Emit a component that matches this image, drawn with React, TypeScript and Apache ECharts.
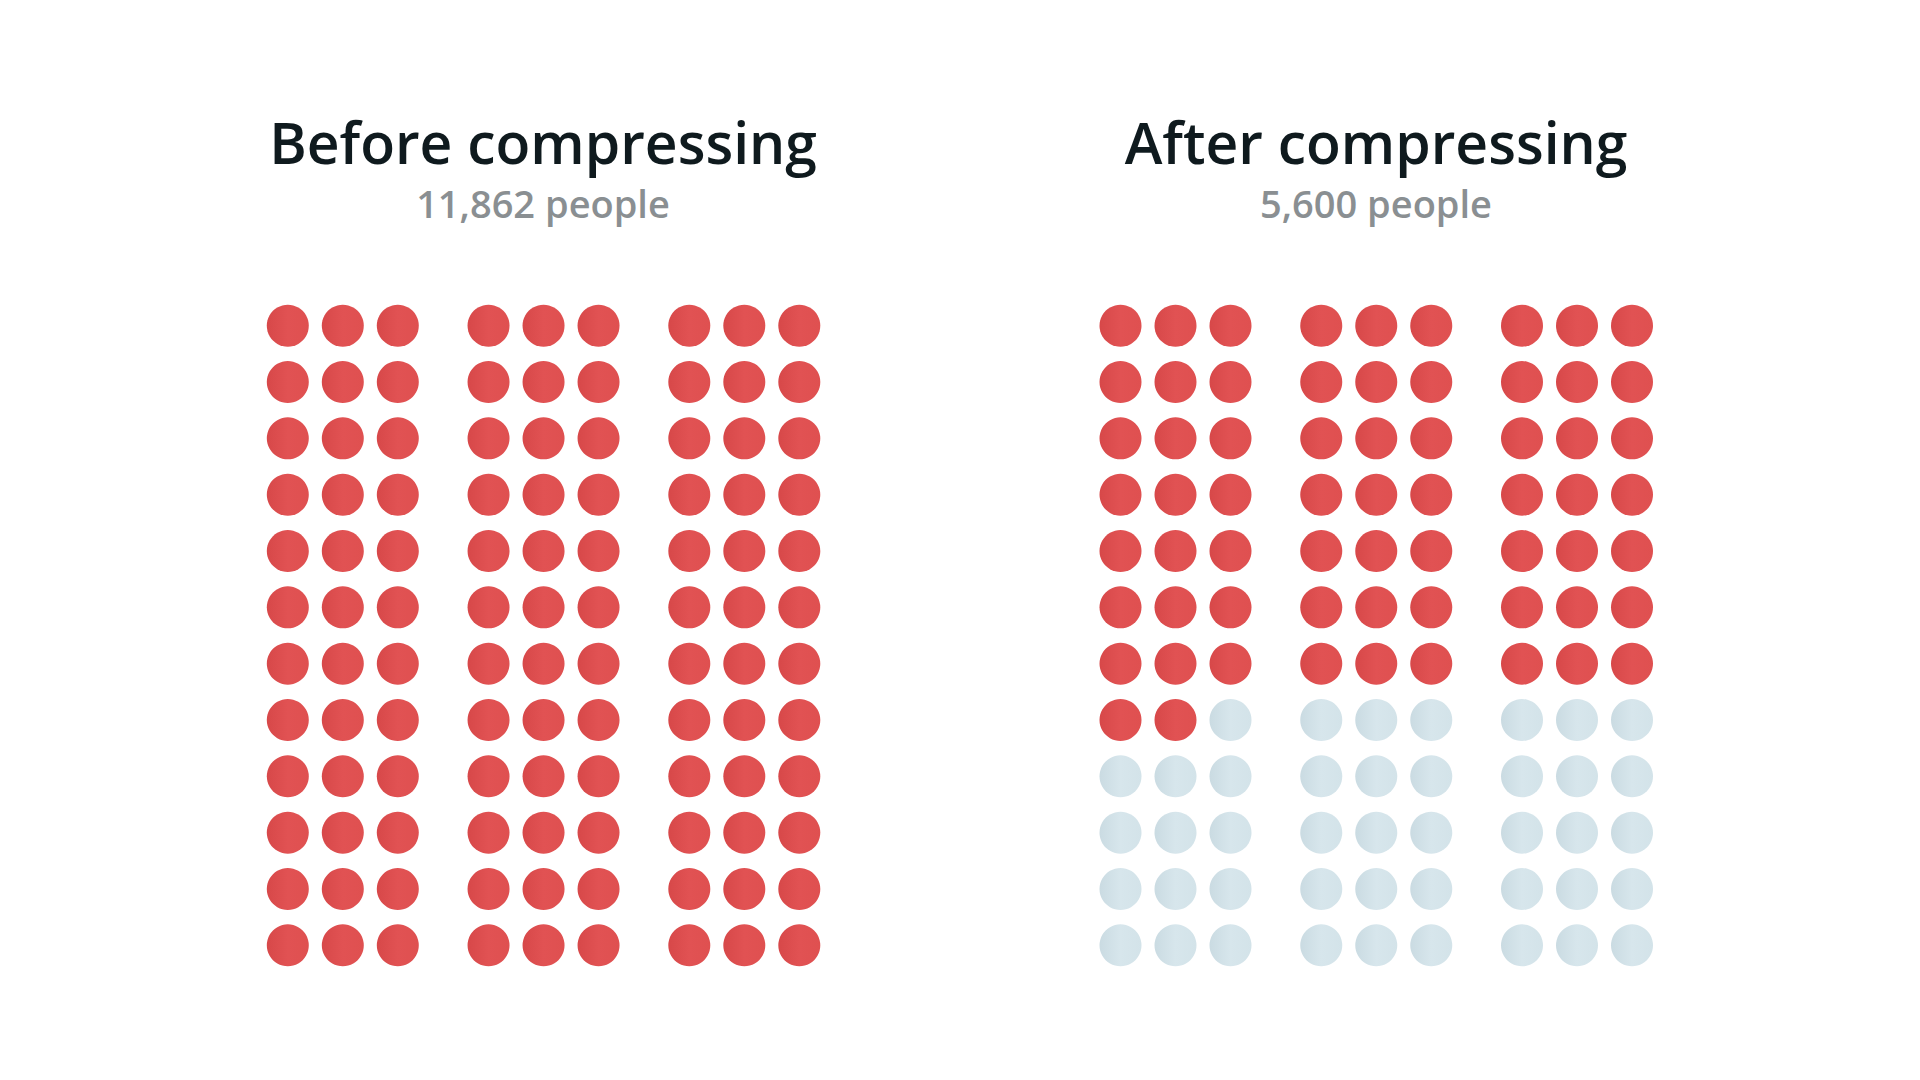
import React, { useEffect, useRef } from "react";
import * as echarts from "echarts";

// ---- data ----
const panelTitles = ["Before compressing", "After compressing"];
const peopleCounts = [11862, 5600];
const filledDots = [108, 65];
const dotColumns = 9;
const dotRows = 12;
const columnsPerBlock = 3;

function buildDots(filled: number) {
  const red: number[][] = [];
  const pale: number[][] = [];
  const gap = 0.65;
  for (let i = 0; i < dotColumns * dotRows; i++) {
    const row = Math.floor(i / dotColumns);
    const col = i % dotColumns;
    const x = col + Math.floor(col / columnsPerBlock) * gap;
    (i < filled ? red : pale).push([x, row]);
  }
  return { red, pale };
}

export default function App() {
  const ref = useRef<HTMLDivElement>(null);
  useEffect(() => {
    if (!ref.current) return;
    const chart = echarts.init(ref.current, undefined, { renderer: "svg" });
    const unit = 55;
    const rowStep = 56.33;
    const gridLefts = [260.3, 1093];
    const centers = [543, 1376];
    const xMax = 8 + 2 * 0.65 + 0.5;
    const grids: any[] = [];
    const xAxes: any[] = [];
    const yAxes: any[] = [];
    const series: any[] = [];
    const titles: any[] = [];
    const redFill = new echarts.graphic.LinearGradient(0, 0, 1, 0, [
      { offset: 0, color: "#d74849" },
      { offset: 0.5, color: "#e15253" },
      { offset: 1, color: "#df5050" },
    ]);
    const paleFill = new echarts.graphic.LinearGradient(0, 0, 1, 0, [
      { offset: 0, color: "#cadbe2" },
      { offset: 0.5, color: "#d7e6ec" },
      { offset: 1, color: "#d3e3e9" },
    ]);
    panelTitles.forEach((t, k) => {
      const { red, pale } = buildDots(filledDots[k]);
      grids.push({
        left: gridLefts[k],
        top: 325.7 - rowStep / 2,
        width: (xMax + 0.5) * unit,
        height: dotRows * rowStep,
      });
      xAxes.push({ gridIndex: k, type: "value", min: -0.5, max: xMax, show: false });
      yAxes.push({
        gridIndex: k,
        type: "value",
        min: -0.5,
        max: dotRows - 0.5,
        inverse: true,
        show: false,
      });
      series.push({
        type: "scatter",
        xAxisIndex: k,
        yAxisIndex: k,
        symbol: "circle",
        symbolSize: 42,
        data: red,
        itemStyle: { color: redFill, opacity: 1 },
        silent: true,
      });
      series.push({
        type: "scatter",
        xAxisIndex: k,
        yAxisIndex: k,
        symbol: "circle",
        symbolSize: 42,
        data: pale,
        itemStyle: { color: paleFill, opacity: 1 },
        silent: true,
      });
      titles.push({
        text: t,
        left: centers[k],
        top: 113,
        textAlign: "center",
        padding: 0,
        textStyle: {
          fontFamily: "Open Sans",
          fontWeight: 600,
          fontSize: 57,
          lineHeight: 57,
          color: "#0f1a1e",
        },
      });
      titles.push({
        text: peopleCounts[k].toLocaleString("en-US") + " people",
        left: centers[k],
        top: 184,
        textAlign: "center",
        padding: 0,
        textStyle: {
          fontFamily: "Open Sans",
          fontWeight: 600,
          fontSize: 38,
          lineHeight: 38,
          color: "#8a8f92",
        },
      });
    });
    chart.setOption({
      animation: false,
      backgroundColor: "#ffffff",
      title: titles,
      grid: grids,
      xAxis: xAxes,
      yAxis: yAxes,
      series,
    });
    return () => chart.dispose();
  }, []);
  return (
    <div
      ref={ref}
      style={{ position: "fixed", left: 0, top: 0, width: 1920, height: 1080 }}
    />
  );
}
